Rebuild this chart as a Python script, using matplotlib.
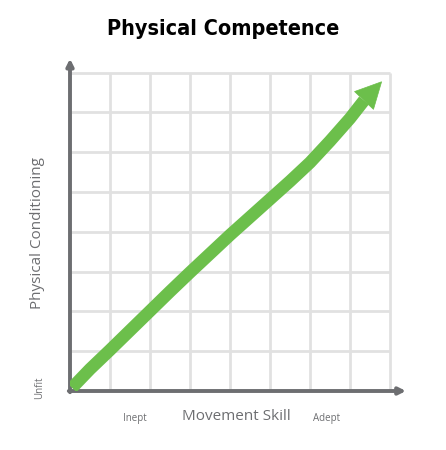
import matplotlib
matplotlib.use("Agg")
import matplotlib.pyplot as plt
import numpy as np
from matplotlib.patches import Polygon

# ---- data (grid units, 0..8) ----
skill = [0.05, 0.5, 1.0, 1.5, 2.0, 2.5, 3.0, 3.5, 4.0, 4.5, 5.0, 5.5, 6.0, 6.5, 7.0, 7.35]
conditioning = [0.08, 0.55, 1.03, 1.52, 2.01, 2.50, 2.98, 3.45, 3.92, 4.37, 4.82, 5.27, 5.74, 6.28, 6.85, 7.30]
tip = (7.79, 7.77)

title = "Physical Competence"
xlabel = "Movement Skill"
ylabel = "Physical Conditioning"
x_low, x_high = "Inept", "Adept"
y_low = "Unfit"
n_grid = 8

GREEN = "#6cbf4b"
AXIS = "#6d6e71"
GRID = "#e1e1e1"

W, H = 446, 450
fig = plt.figure(figsize=(W / 100, H / 100), dpi=100)
fig.patch.set_facecolor("white")

left_px, bottom_px = 70, 391
ax = fig.add_axes([left_px / W, (H - bottom_px) / H, 340 / W, 336 / H])
ax.set_xlim(0, 8.5)
ax.set_ylim(0, 336 / 39.8)
ax.axis("off")

# grid
for i in range(1, n_grid + 1):
    ax.plot([i, i], [0, n_grid], color=GRID, lw=2.0, zorder=1, solid_capstyle="butt")
    ax.plot([0, n_grid], [i, i], color=GRID, lw=2.0, zorder=1, solid_capstyle="butt")

# axes with arrows
arrow_style = "-|>,head_length=0.4,head_width=0.2"
ax.annotate("", xy=(8.4, 0), xytext=(-0.03, 0),
            arrowprops=dict(arrowstyle=arrow_style, color=AXIS, lw=2.8,
                            shrinkA=0, shrinkB=0),
            annotation_clip=False, zorder=3)
ax.annotate("", xy=(0, 8.35), xytext=(0, -0.03),
            arrowprops=dict(arrowstyle=arrow_style, color=AXIS, lw=2.8,
                            shrinkA=0, shrinkB=0),
            annotation_clip=False, zorder=3)

# green curve
ax.plot(skill, conditioning, color=GREEN, lw=9.0, solid_joinstyle="round",
        solid_capstyle="butt", zorder=4)

# arrow head built from the last point and the tip (in display space)
trans = ax.transData
p_end = trans.transform((skill[-1], conditioning[-1]))
p_tip = trans.transform(tip)
d = p_tip - p_end
u = d / np.hypot(*d)
n = np.array([-u[1], u[0]])
half_w = 13.0
b1 = p_end + n * half_w
b2 = p_end - n * half_w
inv = trans.inverted()
head = Polygon(inv.transform([b1, p_tip, b2]), closed=True, facecolor=GREEN,
               edgecolor=GREEN, lw=0.5, zorder=5)
ax.add_patch(head)

# texts
fig.text(223 / W, 1 - 29 / H, title, ha="center", va="center", fontsize=15.5,
         fontweight="bold", family="DejaVu Sans", fontstretch="condensed", color="black")
fig.text(236 / W, 1 - 417 / H, xlabel, ha="center", va="center", fontsize=11,
         family="Open Sans", color=AXIS)
fig.text(135 / W, 1 - 418 / H, x_low, ha="center", va="center", fontsize=7,
         family="Open Sans", color=AXIS)
fig.text(327 / W, 1 - 418 / H, x_high, ha="center", va="center", fontsize=7,
         family="Open Sans", color=AXIS)
fig.text(38 / W, 1 - 233 / H, ylabel, ha="center", va="center", fontsize=11,
         rotation=90, family="Open Sans", color=AXIS)
fig.text(40 / W, 1 - 388 / H, y_low, ha="center", va="center", fontsize=7,
         rotation=90, family="Open Sans", color=AXIS)

fig.savefig("out.png", dpi=100, facecolor="white")
